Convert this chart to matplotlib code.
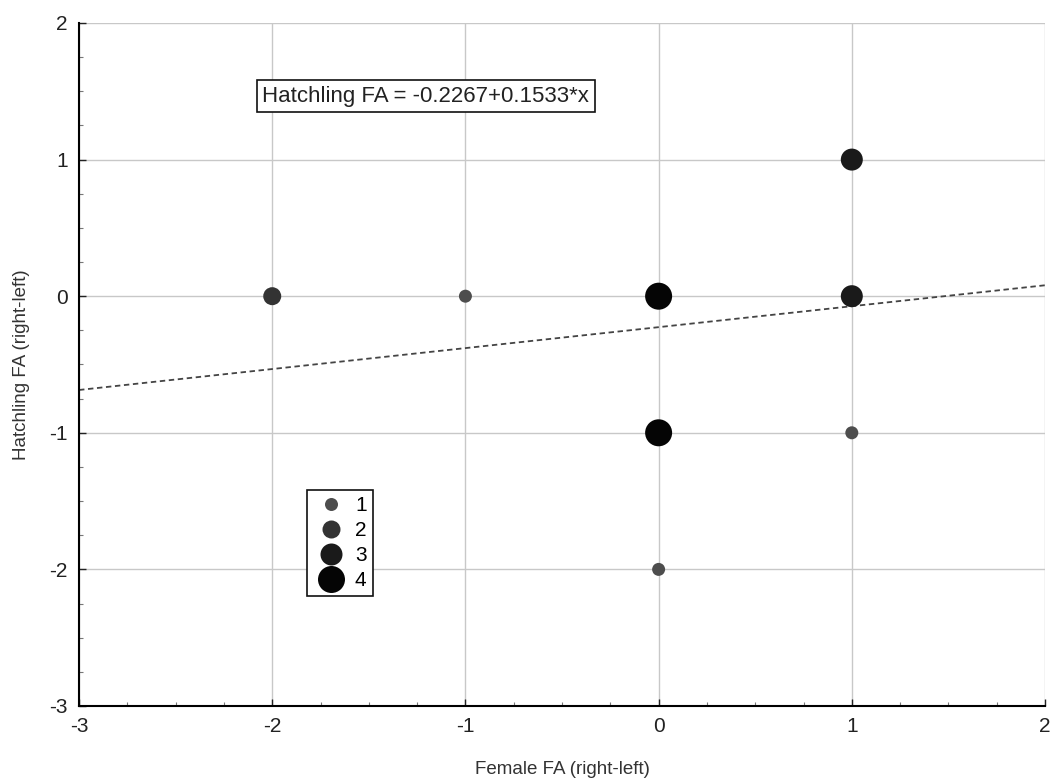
import numpy as np
import matplotlib.pyplot as plt
from matplotlib.ticker import MultipleLocator
from matplotlib.lines import Line2D

plt.rcParams['font.family'] = ['Liberation Sans', 'DejaVu Sans']
plt.rcParams['axes.unicode_minus'] = False

# female vs hatchling FA, with number of overlapping cases per point
female_fa = [-2, -1, 0, 0, 0, 1, 1, 1]
hatch_fa = [0, 0, 0, -1, -2, 1, 0, -1]
counts = [2, 1, 4, 4, 1, 3, 3, 1]

intercept = -0.2267
slope = 0.1533

size_of = {1: 13, 2: 18, 3: 22, 4: 27}          # diameter in px
color_of = {1: '#4d4d4d', 2: '#333333', 3: '#1a1a1a', 4: '#050505'}

fig = plt.figure(figsize=(10.51, 7.82), dpi=100)
ax = fig.add_axes([0.0752, 0.0972, 0.9191, 0.8734])

ax.set_xlim(-3, 2)
ax.set_ylim(-3, 2)
ax.xaxis.set_major_locator(MultipleLocator(1))
ax.yaxis.set_major_locator(MultipleLocator(1))
ax.xaxis.set_minor_locator(MultipleLocator(0.25))
ax.yaxis.set_minor_locator(MultipleLocator(0.25))
ax.grid(True, which='major', color='#c8c8c8', linewidth=1)
ax.set_axisbelow(True)
for s in ['top', 'right']:
    ax.spines[s].set_visible(False)
for s in ['left', 'bottom']:
    ax.spines[s].set_linewidth(1.5)
ax.tick_params(which='major', direction='in', length=5, width=1, labelsize=15,
               colors='#222222', pad=8)
ax.tick_params(which='minor', direction='in', length=3, width=0.8, color='#777777')

xs = np.array([-3, 2])
ax.plot(xs, intercept + slope * xs, ls=(0, (3, 2)), color='#444444', lw=1.3)

for x, y, c in zip(female_fa, hatch_fa, counts):
    d = size_of[c] * 0.72
    ax.scatter(x, y, s=d ** 2, color=color_of[c], zorder=3, edgecolors='none')

handles = [Line2D([], [], ls='none', marker='o', markersize=size_of[c] * 0.72,
                  color=color_of[c], markeredgewidth=0) for c in [1, 2, 3, 4]]
leg = ax.legend(handles, ['1', '2', '3', '4'], loc='upper left',
                bbox_to_anchor=(0.236, 0.316), fontsize=15, handlelength=1.7,
                handletextpad=0.3, labelspacing=0.28, borderpad=0.3,
                fancybox=False, framealpha=1, edgecolor='#111111', borderaxespad=0)
leg.get_frame().set_linewidth(1.2)

ax.text(0.1895, 0.893, 'Hatchling FA = -0.2267+0.1533*x', transform=ax.transAxes,
        fontsize=16, color='#222222', va='center', ha='left',
        bbox=dict(boxstyle='square,pad=0.25', fc='white', ec='#111111', lw=1.2))

ax.set_xlabel('Female FA (right-left)', fontsize=13.5, color='#333333', labelpad=18)
ax.set_ylabel('Hatchling FA (right-left)', fontsize=13.5, color='#333333', labelpad=14)

fig.savefig('out.png', dpi=100)
